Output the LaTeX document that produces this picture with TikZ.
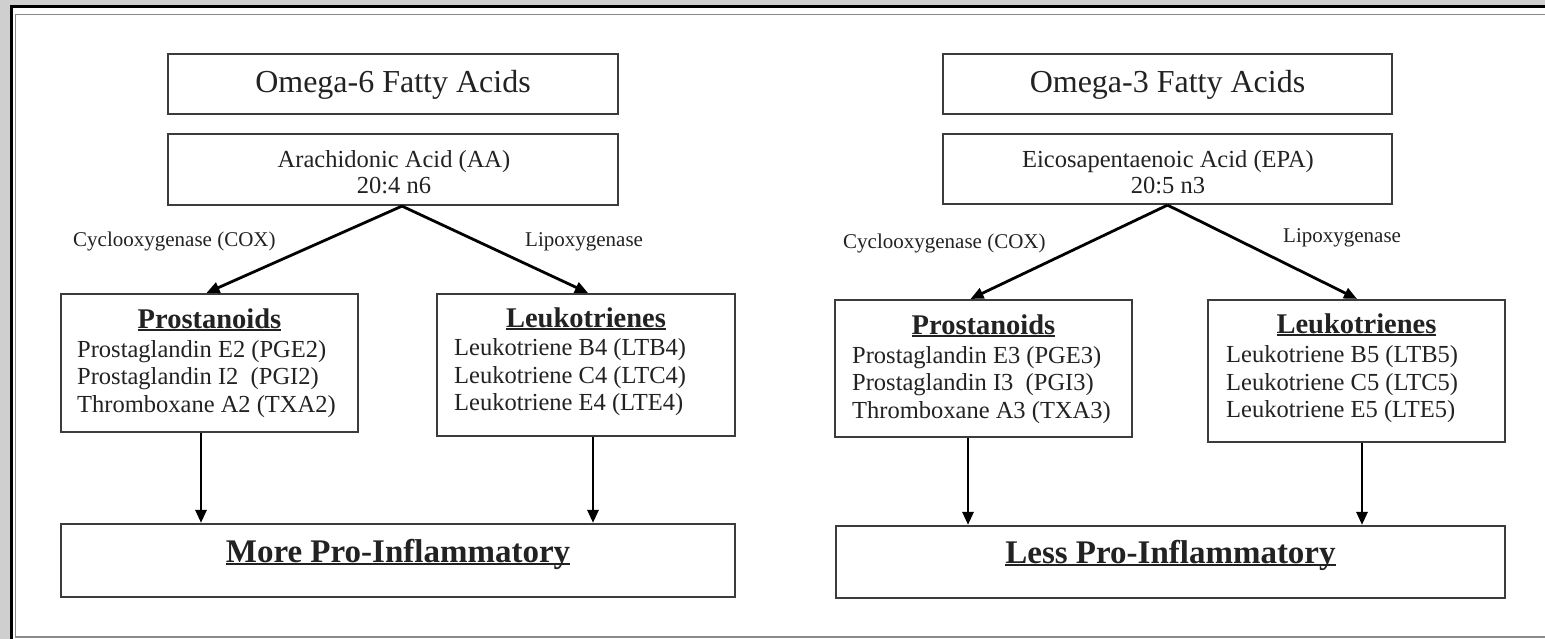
\documentclass[tikz,border=0pt]{standalone}
\usepackage{fontspec}
\setmainfont{Liberation Serif}
\usetikzlibrary{arrows.meta}
\definecolor{bggray}{HTML}{CFCFCF}
\definecolor{framegray}{HTML}{8A8A8A}
\definecolor{boxgray}{HTML}{3C3C3C}
\definecolor{txt}{HTML}{222222}
\newcommand\myul[1]{\setbox0\hbox{#1}\rlap{\rule[-3pt]{\wd0}{1.6pt}}\box0}
\begin{document}
\begin{tikzpicture}[x=1pt,y=-1pt,
  box/.style={draw=boxgray, line width=2.2pt, fill=white, inner sep=0pt},
  arr/.style={draw=black, line width=2.8pt, -{Triangle[length=13pt,width=11pt]}},
  title/.style={text=txt, inner sep=0pt, anchor=base, font=\fontsize{32}{36}\selectfont},
  acid/.style={text=txt, inner sep=0pt, anchor=base, font=\fontsize{24.5}{28}\selectfont},
  enz/.style={text=txt, inner sep=0pt, anchor=base west, font=\fontsize{21}{24}\selectfont},
  head/.style={text=txt, inner sep=0pt, anchor=base, font=\fontsize{28.5}{32}\selectfont\bfseries},
  item/.style={text=txt, inner sep=0pt, anchor=base west, font=\fontsize{24.5}{28}\selectfont},
  concl/.style={text=txt, inner sep=0pt, anchor=base, font=\fontsize{33}{38}\selectfont\bfseries}]
\useasboundingbox (0,0) rectangle (1545,639);
% background and frame
\fill[bggray] (0,0) rectangle (1545,639);
\fill[white] (10,5) rectangle (1545,639);
\draw[black, line width=3pt] (11.5,639) -- (11.5,6.3) -- (1545,6.3);
\draw[framegray, line width=1.5pt] (1545,14.5) -- (15.5,14.5) -- (15.5,637) -- (1545,637);

% ---------- left half ----------
\node[box, minimum width=450pt, minimum height=60pt] (om6) at (393,84) {};
\node[title] (om6t) at (393,93) {Omega-6 Fatty Acids};
\node[box, minimum width=450pt, minimum height=71pt] (aa) at (393,169.5) {};
\node[acid] (aat1) at (394,168) {Arachidonic Acid (AA)};
\node[acid] (aat2) at (394,194) {20:4 n6};

\node[enz] (coxl) at (73,247) {Cyclooxygenase (COX)};
\node[enz] (lipl) at (525,247) {Lipoxygenase};

\node[box, minimum width=297pt, minimum height=138pt] (pl) at (209.5,363) {};
\node[head] (plh) at (209.5,328) {\myul{Prostanoids}};
\node[item] (pl1) at (77,357) {Prostaglandin E2 (PGE2)};
\node[item] (pl2) at (77,384) {Prostaglandin I2\hspace{0.5em}(PGI2)};
\node[item] (pl3) at (77,412) {Thromboxane A2 (TXA2)};

\node[box, minimum width=298pt, minimum height=142pt] (ll) at (586,365) {};
\node[head] (llh) at (586,327) {\myul{Leukotrienes}};
\node[item] (ll1) at (454,355) {Leukotriene B4 (LTB4)};
\node[item] (ll2) at (454,383) {Leukotriene C4 (LTC4)};
\node[item] (ll3) at (454,410) {Leukotriene E4 (LTE4)};

\node[box, minimum width=674pt, minimum height=73pt] (more) at (398,560.5) {};
\node[concl] (moret) at (398,562) {\myul{More Pro-Inflammatory}};

\draw[arr] ([xshift=9pt]aa.south) -- ([xshift=-3pt]pl.north);
\draw[arr] ([xshift=9pt]aa.south) -- ([xshift=2pt]ll.north);
\coordinate (d1) at ([xshift=-8.5pt]pl.south);
\coordinate (d2) at ([xshift=7pt]ll.south);
\draw[arr] (d1) -- (d1 |- more.north);
\draw[arr] (d2) -- (d2 |- more.north);

% ---------- right half ----------
\node[box, minimum width=449pt, minimum height=60pt] (om3) at (1167.5,84) {};
\node[title] (om3t) at (1167.5,93) {Omega-3 Fatty Acids};
\node[box, minimum width=449pt, minimum height=70pt] (ep) at (1167.5,169) {};
\node[acid] (ept1) at (1168,168) {Eicosapentaenoic Acid (EPA)};
\node[acid] (ept2) at (1168,194) {20:5 n3};

\node[enz] (coxr) at (843,249) {Cyclooxygenase (COX)};
\node[enz] (lipr) at (1283,243) {Lipoxygenase};

\node[box, minimum width=297pt, minimum height=137pt] (pr) at (983.5,368.5) {};
\node[head] (prh) at (983.5,334) {\myul{Prostanoids}};
\node[item] (pr1) at (852,363) {Prostaglandin E3 (PGE3)};
\node[item] (pr2) at (852,390) {Prostaglandin I3\hspace{0.5em}(PGI3)};
\node[item] (pr3) at (852,418) {Thromboxane A3 (TXA3)};

\node[box, minimum width=297pt, minimum height=142pt] (lr) at (1356.5,371) {};
\node[head] (lrh) at (1356.5,333) {\myul{Leukotrienes}};
\node[item] (lr1) at (1226,362) {Leukotriene B5 (LTB5)};
\node[item] (lr2) at (1226,390) {Leukotriene C5 (LTC5)};
\node[item] (lr3) at (1226,417) {Leukotriene E5 (LTE5)};

\node[box, minimum width=669pt, minimum height=72pt] (less) at (1170.5,562) {};
\node[concl] (lesst) at (1170.5,563) {\myul{Less Pro-Inflammatory}};

\draw[arr] (ep.south) -- ([xshift=-13pt]pr.north);
\draw[arr] (ep.south) -- ([xshift=0.5pt]lr.north);
\coordinate (d3) at ([xshift=-15.5pt]pr.south);
\coordinate (d4) at ([xshift=5.5pt]lr.south);
\draw[arr] (d3) -- (d3 |- less.north);
\draw[arr] (d4) -- (d4 |- less.north);
\end{tikzpicture}
\end{document}
